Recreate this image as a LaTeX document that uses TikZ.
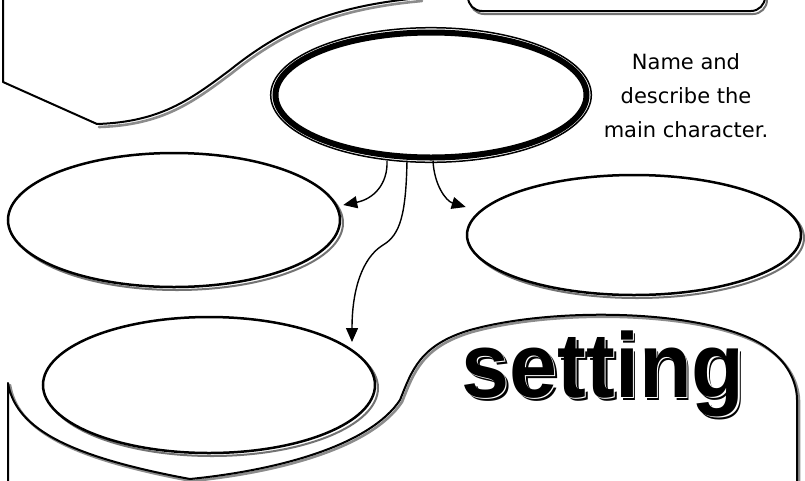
\documentclass[tikz,border=0pt]{standalone}
\usepackage{fontspec}
\setmainfont{DejaVu Sans}
\newfontfamily\titlefont{Liberation Sans}
\usetikzlibrary{shapes.geometric,arrows.meta,shadows}
\tikzset{
  bubble/.style={ellipse, draw=black, line width=2.5pt, fill=white, inner sep=0pt,
    drop shadow={fill=none, draw=black!55, line width=2pt, opacity=1,
      shadow xshift=3pt, shadow yshift=-3pt}},
  link/.style={line width=1.4pt, -{Triangle[length=14pt,width=12pt]}},
  note/.style={font=\fontsize{21}{34}\selectfont, align=center},
  outline/.style={line width=2pt, line cap=round, line join=round},
  outlineshadow/.style={line width=2.6pt, draw=black!45, line cap=round, line join=round},
  titletext/.style={font=\titlefont\bfseries\fontsize{92}{92}\selectfont, xscale=0.94, anchor=base, inner sep=0pt}
}
\newcommand{\bevelword}[1]{\rlap{\hspace{3pt}\raisebox{-3pt}{#1}}\rlap{\hspace{1.3pt}\raisebox{-1.3pt}{\textcolor{white}{#1}}}#1}
\begin{document}
\begin{tikzpicture}[x=1pt,y=-1pt]
\useasboundingbox (0,0) rectangle (805,480);
\clip (0,0) rectangle (805,480);
\fill[white] (0,0) rectangle (805,480);

% top-left blob
\draw[outlineshadow, xshift=2pt, yshift=-3pt] (97,124) .. controls (160,122) and (190,100) .. (230,70) .. controls (280,30) and (330,6) .. (420,-2);
\draw[outline] (3,-5) -- (3,82) -- (97,124) .. controls (160,122) and (190,100) .. (230,70) .. controls (280,30) and (330,6) .. (420,-2);

% top-right rounded box
\node[rectangle, rounded corners=14pt, draw, line width=2pt, fill=white, inner sep=0pt,
  minimum width=297pt, minimum height=62pt,
  drop shadow={fill=none, draw=black!55, line width=2pt, opacity=1, shadow xshift=2pt, shadow yshift=-3pt}]
  (box) at (616.5,-20) {};

% bottom blob
\draw[outlineshadow, xshift=2pt, yshift=-2pt] (8,383) .. controls (15,425) and (60,455) .. (190,479) .. controls (280,470) and (370,445) .. (400,400) .. controls (412,370) and (420,345) .. (470,330) .. controls (560,305) and (720,310) .. (770,350) .. controls (790,365) and (797,385) .. (797,400) -- (797,490);
\draw[outline] (8,490) -- (8,383) .. controls (15,425) and (60,455) .. (190,479) .. controls (280,470) and (370,445) .. (400,400) .. controls (412,370) and (420,345) .. (470,330) .. controls (560,305) and (720,310) .. (770,350) .. controls (790,365) and (797,385) .. (797,400) -- (797,490);

% main character ellipse
\node[ellipse, draw=black, line width=6pt, fill=white, inner sep=0pt,
  minimum width=311pt, minimum height=125pt] (main) at (431,95) {};
\draw[line width=1.5pt] (main.center) ellipse [x radius=160.3pt, y radius=67.3pt];

% other bubbles
\node[bubble, minimum width=332pt, minimum height=134pt] (left) at (174,220) {};
\node[bubble, minimum width=334pt, minimum height=120pt] (right) at (634,235) {};
\node[bubble, minimum width=332pt, minimum height=136pt] (bl) at (209,385) {};

% prompt
\node[note] (prompt) at (686,96) {Name and\\describe the\\main character.};

% arrows
\draw[link] ([xshift=-44pt]main.south) .. controls +(1,24) and +(30,-6) .. ([shift={(2pt,15pt)}]left.east);
\draw[link] ([xshift=-24pt]main.south) .. controls (406,215) and (400,235) .. (383,245) .. controls (362,258) and (352,290) .. ([shift={(143pt,43pt)}]bl.center);
\draw[link] ([xshift=2pt]main.south) .. controls +(1,24) and +(-20,-6) .. ([shift={(0pt,28pt)}]right.west);

% title
\node[titletext] (title) at (603,397) {\bevelword{setting}};
\end{tikzpicture}
\end{document}
